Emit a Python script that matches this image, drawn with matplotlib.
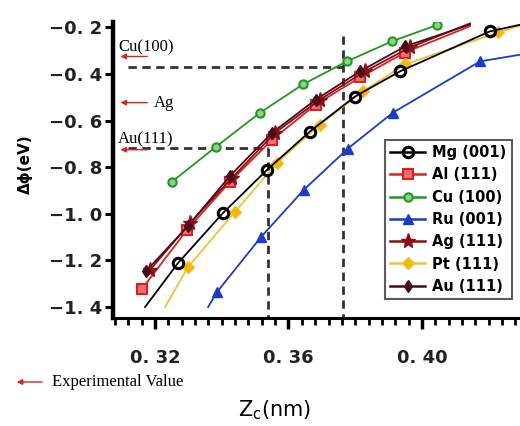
import matplotlib
matplotlib.use("Agg")
import matplotlib.pyplot as plt
from matplotlib.ticker import MultipleLocator

# Zc (nm) and delta phi (eV)
mg_x = [0.3269, 0.3404, 0.3536, 0.3664, 0.3799, 0.3934, 0.4204]
mg_y = [-1.211, -0.996, -0.811, -0.647, -0.497, -0.389, -0.217]
al_x = [0.3161, 0.3296, 0.3425, 0.3551, 0.3682, 0.3814, 0.3949]
al_y = [-1.322, -1.069, -0.862, -0.682, -0.531, -0.415, -0.308]
cu_x = [0.3251, 0.3383, 0.3515, 0.3643, 0.3775, 0.3910, 0.4045]
cu_y = [-0.862, -0.712, -0.566, -0.445, -0.346, -0.260, -0.190]
ru_x = [0.3386, 0.3518, 0.3646, 0.3778, 0.3913, 0.4174]
ru_y = [-1.335, -1.099, -0.897, -0.720, -0.566, -0.346]
ag_x = [0.3185, 0.3305, 0.3431, 0.3560, 0.3694, 0.3829, 0.3964]
ag_y = [-1.241, -1.039, -0.845, -0.652, -0.510, -0.389, -0.286]
pt_x = [0.3299, 0.3440, 0.3566, 0.3694, 0.3823, 0.3949, 0.4228]
pt_y = [-1.228, -0.991, -0.781, -0.617, -0.475, -0.359, -0.222]
au_x = [0.3173, 0.3299, 0.3425, 0.3551, 0.3682, 0.3814, 0.3949]
au_y = [-1.246, -1.052, -0.837, -0.652, -0.510, -0.389, -0.282]

# where the fitted curves run past the first / last point
mg_ends = [(0.3170, -1.40), (0.4300, -0.187)]
pt_ends = [(0.3230, -1.40), (0.4300, -0.190)]
ru_ends = [(0.3359, -1.40), (0.4300, -0.316)]
al_ends = [None, (0.4144, -0.195)]
ag_ends = [None, (0.4144, -0.183)]
au_ends = [None, (0.4144, -0.188)]
cu_ends = [None, None]

labels = ["Mg (001)", "Al (111)", "Cu (100)", "Ru (001)", "Ag (111)", "Pt (111)", "Au (111)"]

# experimental values (eV) marked with arrows
exp_names = ["Cu(100)", "Ag", "Au(111)"]
exp_vals = [-0.325, -0.523, -0.725]

# dashed guide lines
guide_h = [-0.372, -0.716]
guide_v = [0.3763, 0.3539]

yticks = [-0.2, -0.4, -0.6, -0.8, -1.0, -1.2, -1.4]
ytick_labels = ["\u22120. 2", "\u22120. 4", "\u22120. 6", "\u22120. 8", "\u22121. 0", "\u22121. 2", "\u22121. 4"]
xticks = [0.32, 0.36, 0.40]
xtick_labels = ["0. 32", "0. 36", "0. 40"]


def with_ends(xs, ys, ends):
    lx, ly = list(xs), list(ys)
    if ends[0] is not None:
        lx.insert(0, ends[0][0])
        ly.insert(0, ends[0][1])
    if ends[1] is not None:
        lx.append(ends[1][0])
        ly.append(ends[1][1])
    return lx, ly


fig = plt.figure(figsize=(5.2, 4.26), dpi=100)
ax = fig.add_axes([113 / 520, 1 - 318 / 426, 407 / 520, 296 / 426])
ax.set_xlim(0.3074, 0.4294)
ax.set_ylim(-1.447, -0.177)

# guide lines
dash = dict(color="#333333", lw=2, dashes=(3, 2), zorder=1)
ax.plot([0.3119, guide_v[0]], [guide_h[0], guide_h[0]], **dash)
ax.plot([0.3119, guide_v[1]], [guide_h[1], guide_h[1]], **dash)
ax.plot([guide_v[0], guide_v[0]], [-0.239, -1.447], **dash)
ax.plot([guide_v[1], guide_v[1]], [guide_h[1], -1.447], **dash)

series = [
    (mg_x, mg_y, mg_ends, dict(color="black", marker="o", ms=7.5, mfc="none", mew=2.2), 6),
    (al_x, al_y, al_ends, dict(color="#e0201c", marker="s", ms=6.5, mfc="#f07070", mew=1.5), 3),
    (cu_x, cu_y, cu_ends, dict(color="#1f9a1f", marker="o", ms=6, mfc="#8fd08f", mew=1.5), 3),
    (ru_x, ru_y, ru_ends, dict(color="#1a3cc8", marker="^", ms=7, mfc="#1a3cc8", mew=1), 3),
    (ag_x, ag_y, ag_ends, dict(color="#8c0d14", marker="*", ms=11, mfc="#8c0d14", mew=1), 4),
    (pt_x, pt_y, pt_ends, dict(color="#f2c230", marker="D", ms=6.5, mfc="#f5b800", mew=1), 5),
    (au_x, au_y, au_ends, dict(color="#4a0a1e", marker="d", ms=6, mfc="#4a0a1e", mew=1), 4),
]

handles = []
for (xs, ys, ends, st, z), lab in zip(series, labels):
    lx, ly = with_ends(xs, ys, ends)
    ax.plot(lx, ly, color=st["color"], lw=1.3, zorder=z)
    ax.plot(xs, ys, ls="none", zorder=z + 0.5, **st)
    h, = ax.plot([], [], color=st["color"], lw=1.8, **{k: v for k, v in st.items() if k != "color"})
    handles.append(h)

# experimental value arrows
arrow_kw = dict(arrowstyle="-|>", color="#e02020", lw=1.0, mutation_scale=8)
for name, val in zip(exp_names, exp_vals):
    ax.annotate("", xy=(0.3088, val), xytext=(0.3185, val), arrowprops=arrow_kw, zorder=7)
serif = ["Liberation Serif", "DejaVu Serif"]
ax.text(0.3090, -0.303, exp_names[0], family=serif, fontsize=12, va="baseline", ha="left")
ax.text(0.3195, exp_vals[1], exp_names[1], family=serif, fontsize=12, va="center", ha="left")
ax.text(0.3090, -0.699, exp_names[2], family=serif, fontsize=12, va="baseline", ha="left")

fig.patches.append(matplotlib.patches.FancyArrowPatch(
    (45 / 520, 1 - 382 / 426), (14 / 520, 1 - 382 / 426), transform=fig.transFigure,
    arrowstyle="-|>", color="#e02020", lw=1.0, mutation_scale=8))
fig.text(52 / 520, 1 - 382 / 426, "Experimental Value", family=serif, fontsize=12,
         va="center", ha="left")

# axes styling
for s in ["top", "right"]:
    ax.spines[s].set_visible(False)
ax.spines["left"].set_linewidth(3.2)
ax.spines["bottom"].set_linewidth(2.2)

ax.set_yticks(yticks)
ax.set_yticklabels(ytick_labels)
ax.set_xticks(xticks)
ax.set_xticklabels(xtick_labels)
ax.xaxis.set_minor_locator(MultipleLocator(0.004))
ax.tick_params(axis="y", direction="out", length=6, width=2.2, pad=2)
ax.tick_params(axis="x", which="major", direction="out", length=8, width=2.5, pad=14)
ax.tick_params(axis="x", which="minor", direction="out", length=5, width=2)
for t in ax.get_xticklabels() + ax.get_yticklabels():
    t.set_fontsize(13)
    t.set_fontweight("bold")
    t.set_color("#222222")

fig.text(25 / 520, 1 - 164 / 426, "\u0394\u03d5(eV)", rotation=90, fontsize=11,
         fontweight="bold", ha="center", va="center")
fig.text(275 / 520, 1 - 410 / 426, "$\\mathregular{Z_c}$(nm)", fontsize=15,
         ha="center", va="center")

leg = ax.legend(handles, labels, loc="upper left",
                bbox_to_anchor=((385 - 113) / 407, (318 - 140) / 296),
                prop=dict(weight="bold", size=10.5), frameon=True,
                fancybox=False, edgecolor="#333333", handlelength=2.4,
                labelspacing=0.5, borderpad=0.35, handletextpad=0.5, borderaxespad=0)
leg.get_frame().set_linewidth(1.5)

fig.savefig("out.png", dpi=100)
